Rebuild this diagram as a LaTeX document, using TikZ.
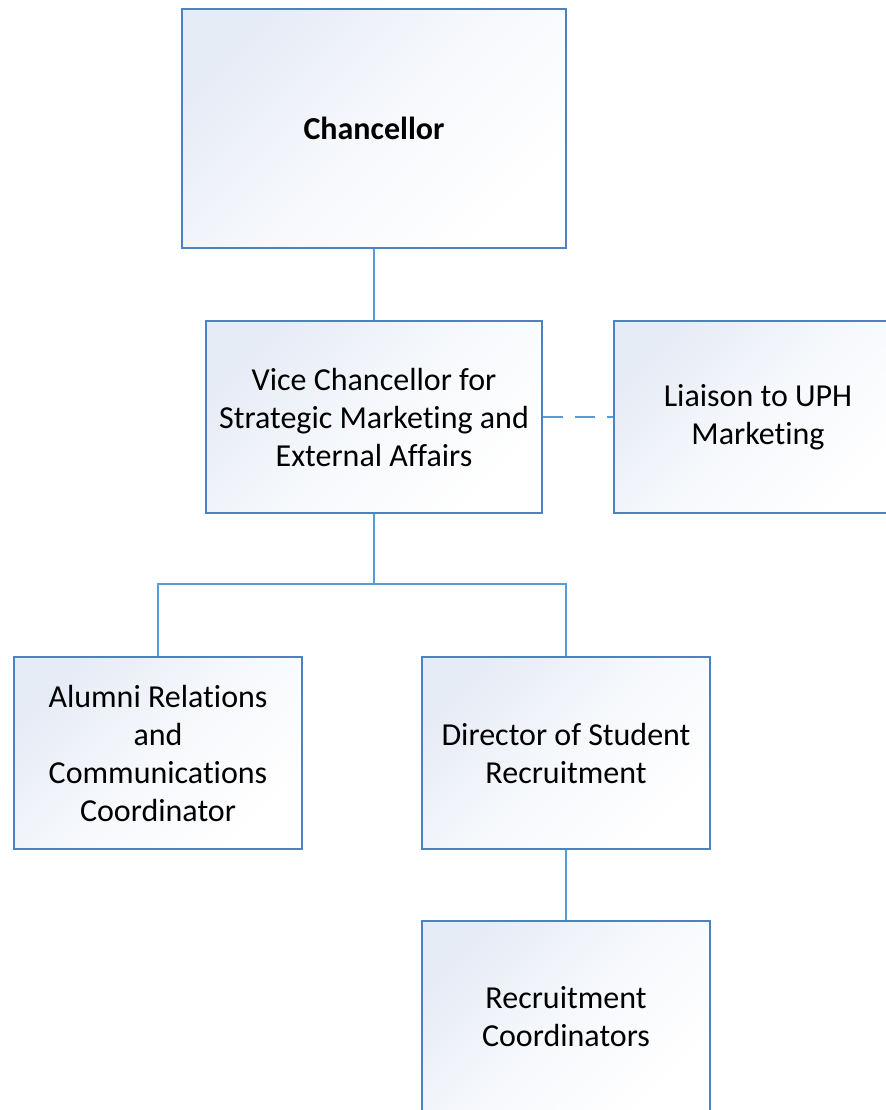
\documentclass[tikz,border=0pt]{standalone}
\usepackage{fontspec}
\setmainfont{Carlito}[RawFeature={-liga;-clig;-calt;-dlig}]
\usetikzlibrary{positioning}

\definecolor{boxline}{HTML}{4F81BD}
\definecolor{linkline}{HTML}{5B9BD5}
\definecolor{boxtop}{HTML}{E6ECF6}

\begin{document}
\begin{tikzpicture} [x=0.5pt, y=-0.5pt,
            on grid,
            orgbox/.style = {draw=boxline, line width=1.1pt,
                top color=boxtop, bottom color=white,
                middle color=boxtop!35!white, shading angle=45,
                minimum width=144pt, minimum height=96pt,
                align=center, inner sep=0pt,
                font=\fontsize{16pt}{19pt}\selectfont},
            link/.style = {draw=linkline, line width=1pt}]

        % Page frame
        \useasboundingbox (0,0) rectangle (886,1110);
        \clip (0,0) rectangle (886,1110);

        % Chancellor
        \node (chan) [orgbox,
            minimum width=192pt,
            minimum height=119.5pt,
            font=\fontsize{16pt}{19pt}\selectfont\bfseries] at (374,128.5) {Chancellor};

        % Vice Chancellor
        \node (vc) [orgbox,
            minimum width=168pt,
            below = 144.25pt of chan] {Vice Chancellor for\\Strategic Marketing and\\External Affairs};

        % Liaison
        \node (liaison) [orgbox,
            right = 192pt of vc] {Liaison to UPH\\Marketing};

        % Alumni Relations
        \node (alumni) [orgbox,
            below left = 168pt and 108pt of vc] {Alumni Relations\\and\\Communications\\Coordinator};

        % Director
        \node (director) [orgbox,
            below right = 168pt and 96pt of vc] {Director of Student\\Recruitment};

        % Recruitment Coordinators
        \node (rc) [orgbox,
            below = 132pt of director] {Recruitment\\Coordinators};

        % Lines
        \coordinate (fork) at (374,584);
        \path [link]
            (chan) edge (vc)
            (vc.south) edge (fork)
            (director) edge (rc);
        \draw [link] (alumni.north) |- (fork) -| (director.north);
        \draw [link, dash pattern=on 10pt off 6pt] (vc.east) -- (liaison.west);
\end{tikzpicture}
\end{document}
